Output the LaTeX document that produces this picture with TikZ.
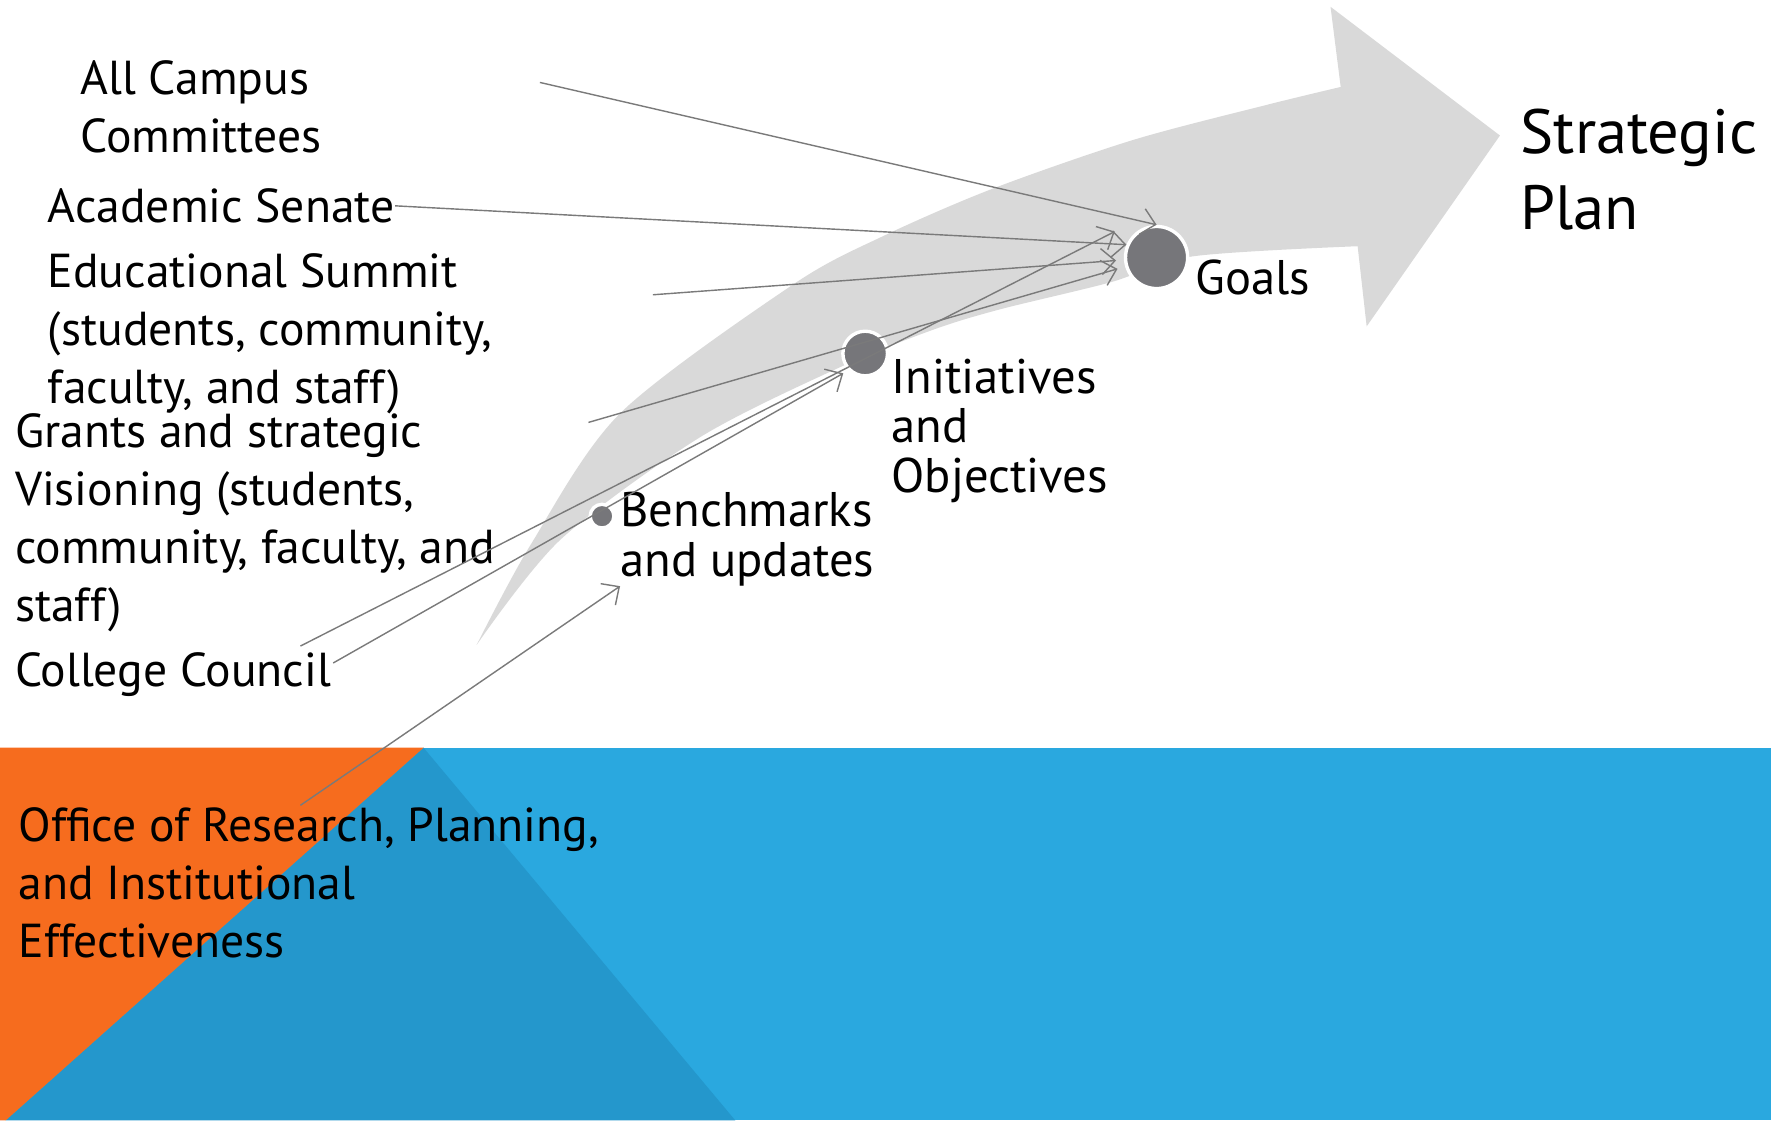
\documentclass[tikz,border=0pt]{standalone}
\usepackage{fontspec}
\setmainfont{PT Sans}
\usetikzlibrary{arrows.meta, positioning, calc}
\definecolor{bandgrey}{RGB}{217,217,217}
\definecolor{dotgrey}{RGB}{118,118,122}
\definecolor{linegrey}{RGB}{122,122,122}
\definecolor{myorange}{RGB}{246,108,30}
\definecolor{myblue}{RGB}{42,168,223}
\definecolor{mydarkblue}{RGB}{36,151,204}
\tikzset{
  srclabel/.style={anchor=base west, align=left, inner sep=0pt,
    font=\fontsize{24}{29.2}\selectfont},
  steplabel/.style={anchor=base west, align=left, inner sep=0pt,
    font=\fontsize{24.5}{25}\selectfont},
  milestone/.style={circle, fill=dotgrey, draw=white, line width=0.6mm,
    inner sep=0pt},
  feed/.style={-{Straight Barb[length=2.4mm, width=4.6mm]}, draw=linegrey,
    line width=0.25mm}
}

\begin{document}
\begin{tikzpicture}[x=0.2mm, y=-0.2mm]
  \useasboundingbox (0,0) rectangle (1568,992);
  % bottom band
  \fill[myblue] (0,662) rectangle (1568,992);
  \fill[mydarkblue] (375,662) -- (651,992) -- (5,992) -- cycle;
  \fill[myorange] (0,662) -- (375,662) -- (5,992) -- (0,992) -- cycle;
  % curved arrow
  \fill[bandgrey] plot[smooth, tension=0.5] coordinates {(422,571) (470,482)
      (549,366) (702,252) (782,209) (879,167) (1003,124) (1121,93) (1187,77)}
    -- (1178,6) -- (1328,120) -- (1210,289) -- (1202,218)
    -- plot[smooth, tension=0.5] coordinates {(1202,218) (1056,227) (983,250)
      (885,274) (826,292) (744,325) (620,387) (496,478) (422,571)} -- cycle;
  % milestones (base = last line)
  \node[milestone, minimum size=11mm] (goalsdot) at (1024,228) {};
  \node[milestone, minimum size=7.9mm] (initdot) at (766,313) {};
  \node[milestone, minimum size=4.2mm] (benchdot) at (533,457) {};
  \node[steplabel] (goals) at (1058,261) {Goals};
  \node[steplabel] (initobj) at (789,436) {Initiatives\\and\\Objectives};
  \node[steplabel] (bench) at (549,510) {Benchmarks\\and updates};
  \node[anchor=base west, align=left, inner sep=0pt,
    font=\fontsize{31.5}{38}\selectfont] (strat) at (1346,203) {Strategic\\Plan};
  % sources
  \node[srclabel] (allcamp) at (71,135) {All Campus\\Committees};
  \node[srclabel] (acadsen) at (42,197) {Academic Senate};
  \node[srclabel] (edsummit) at (42,357) {Educational Summit\\(students, community,\\faculty, and staff)};
  \node[srclabel] (grants) at (13,550) {Grants and strategic\\Visioning (students,\\community, faculty, and\\staff)};
  \node[srclabel] (council) at (13,608) {College Council};
  \node[srclabel] (office) at (16,848) {Office of Research, Planning,\\and Institutional\\Effectiveness};
  % line ends
  \coordinate (allcampend) at (478,73);
  \coordinate (edsummitend) at (578,261);
  \coordinate (grantsend) at (521,374);
  \coordinate (councilend) at (266,572);
  \coordinate (councilend2) at (295,587);
  \coordinate (officeend) at (266,713);
  \coordinate (goalsin) at (987,205);
  % feeds
  \draw[feed] (allcampend) -- (goalsdot.north);
  \draw[feed] (acadsen.east) -- (goalsdot.157);
  \draw[feed, shorten >=1.4mm] (edsummitend) -- (goalsdot);
  \draw[feed, shorten >=1.4mm] (grantsend) -- (goalsdot);
  \draw[feed] (councilend) -- (goalsin);
  \draw[feed, shorten >=1mm] (councilend2) -- (initdot.south west);
  \draw[feed] (officeend) -- (bench.south west);
\end{tikzpicture}
\end{document}
